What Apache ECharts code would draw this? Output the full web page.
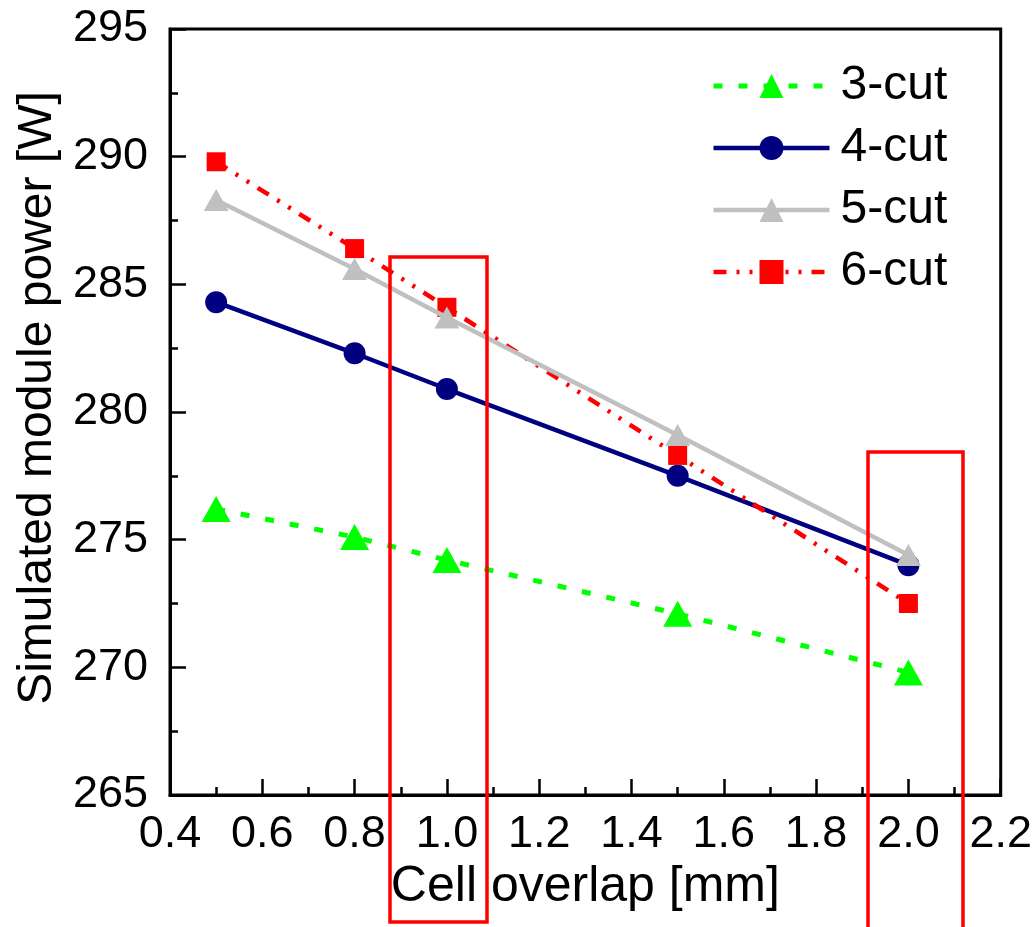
<!DOCTYPE html>
<html>
<head>
<meta charset="utf-8">
<script src="https://cdn.jsdelivr.net/npm/echarts@6/dist/echarts.min.js"></script>
<style>
  html, body { margin: 0; padding: 0; background: #fff; }
  #chart { width: 1035px; height: 927px; }
</style>
</head>
<body>
<div id="chart"></div>
<script>
// ---- Data ----
const overlap = [0.5, 0.8, 1.0, 1.5, 2.0];
const cut3 = [276.2, 275.1, 274.2, 272.1, 269.8];
const cut4 = [284.3, 282.3, 280.9, 277.5, 274.0];
const cut5 = [288.3, 285.6, 283.7, 279.1, 274.4];
const cut6 = [289.8, 286.4, 284.1, 278.3, 272.5];
const seriesNames = ['3-cut', '4-cut', '5-cut', '6-cut'];
const xAxisTitle = 'Cell overlap [mm]';
const yAxisTitle = 'Simulated module power [W]';

function pairs(xs, ys) { return xs.map((x, i) => [x, ys[i]]); }

const FONT = 'Liberation Sans, Arial, sans-serif';
const chart = echarts.init(document.getElementById('chart'), null, { renderer: 'canvas' });

const option = {
  backgroundColor: '#ffffff',
  animation: false,
  grid: {
    left: 170, right: 33, top: 29, bottom: 132,
    show: true, borderColor: '#000', borderWidth: 3, backgroundColor: 'transparent'
  },
  legend: {
    orient: 'vertical',
    left: 706, top: 56,
    itemWidth: 116, itemHeight: 30, itemGap: 12,
    lineStyle: { width: 'inherit' },
    textStyle: { fontFamily: FONT, fontSize: 48, color: '#000', lineHeight: 50, padding: [0, 0, 0, 6] },
    data: seriesNames
  },
  xAxis: {
    type: 'value', min: 0.4, max: 2.2, interval: 0.2,
    name: xAxisTitle, nameLocation: 'middle', nameGap: 54,
    nameTextStyle: { fontFamily: FONT, fontSize: 50, color: '#000' },
    axisLine: { show: true, onZero: false, lineStyle: { color: '#000', width: 3 } },
    axisTick: { show: true, inside: true, length: 16, lineStyle: { color: '#000', width: 2.5 } },
    minorTick: { show: true, splitNumber: 2, length: 8, lineStyle: { color: '#000', width: 2.5 } },
    splitLine: { show: false },
    axisLabel: { fontFamily: FONT, fontSize: 45, color: '#000', margin: 17, formatter: v => v.toFixed(1) }
  },
  yAxis: {
    type: 'value', min: 265, max: 295, interval: 5,
    name: yAxisTitle, nameLocation: 'middle', nameGap: 106, nameRotate: 90,
    nameTextStyle: { fontFamily: FONT, fontSize: 48, color: '#000', padding: [0, 0, 0, 28] },
    axisLine: { show: true, onZero: false, lineStyle: { color: '#000', width: 3 } },
    axisTick: { show: true, inside: true, length: 16, lineStyle: { color: '#000', width: 2.5 } },
    minorTick: { show: true, splitNumber: 2, length: 8, lineStyle: { color: '#000', width: 2.5 } },
    splitLine: { show: false },
    axisLabel: { fontFamily: FONT, fontSize: 45, color: '#000', margin: 22 }
  },
  series: [
    {
      name: seriesNames[0], type: 'line', data: pairs(overlap, cut3),
      symbol: 'triangle', symbolSize: [29, 26],
      itemStyle: { color: '#00ff00' },
      lineStyle: { color: '#00ff00', width: 5, type: [9, 16] },
      z: 2
    },
    {
      name: seriesNames[1], type: 'line', data: pairs(overlap, cut4),
      symbol: 'circle', symbolSize: 22,
      itemStyle: { color: '#000080' },
      lineStyle: { color: '#000080', width: 4.5, type: 'solid' },
      z: 3
    },
    {
      name: seriesNames[3], type: 'line', data: pairs(overlap, cut6),
      symbol: 'rect', symbolSize: 19,
      itemStyle: { color: '#ff0000' },
      lineStyle: { color: '#ff0000', width: 4.5, type: [13, 10, 3, 10, 3, 10] },
      z: 4
    },
    {
      name: seriesNames[2], type: 'line', data: pairs(overlap, cut5),
      symbol: 'triangle', symbolSize: [25, 22],
      itemStyle: { color: '#c0c0c0' },
      lineStyle: { color: '#c0c0c0', width: 4.5, type: 'solid' },
      z: 5
    }
  ],
  graphic: [
    { type: 'rect', shape: { x: 390, y: 257, width: 97, height: 665 },
      style: { fill: 'none', stroke: '#ff0000', lineWidth: 3.5 }, z: 100 },
    { type: 'rect', shape: { x: 868, y: 452, width: 95, height: 500 },
      style: { fill: 'none', stroke: '#ff0000', lineWidth: 3.5 }, z: 100 }
  ]
};
chart.setOption(option);
</script>
</body>
</html>
